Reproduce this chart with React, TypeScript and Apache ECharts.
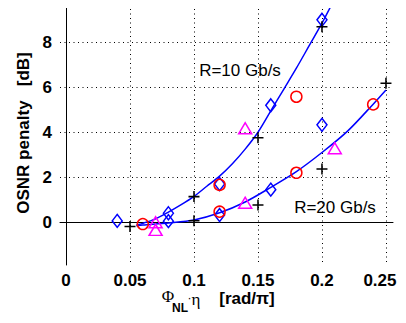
import React, { useEffect, useRef } from "react";
import * as echarts from "echarts";

const xTicks = [0, 0.05, 0.1, 0.15, 0.2, 0.25];
const yTicks = [0, 2, 4, 6, 8];

const diamonds: [number, number][] = [
  [0.04, 0.06], [0.08, 0.4], [0.08, 0.05], [0.12, 1.7], [0.12, 0.32],
  [0.16, 1.45], [0.16, 5.2], [0.2, 9.0], [0.2, 4.33],
];
const pluses: [number, number][] = [
  [0.05, -0.19], [0.1, 1.14], [0.1, 0.07], [0.15, 0.77], [0.15, 3.76],
  [0.2, 8.69], [0.2, 2.37], [0.25, 6.18],
];
const circles: [number, number][] = [
  [0.06, -0.08], [0.12, 1.66], [0.12, 0.47], [0.18, 2.2], [0.18, 5.58], [0.24, 5.24],
];
const triangles: [number, number][] = [
  [0.07, 0.0], [0.07, -0.34], [0.14, 0.87], [0.14, 4.18], [0.21, 3.29],
];
const fit10: [number, number][] = [
  [0.055, -0.12], [0.06, -0.05], [0.07, 0.15], [0.08, 0.45], [0.09, 0.78],
  [0.1, 1.15], [0.11, 1.6], [0.12, 2.05], [0.13, 2.6], [0.14, 3.25],
  [0.15, 4.0], [0.16, 4.95], [0.17, 5.9], [0.18, 6.85], [0.19, 7.85],
  [0.2, 8.85], [0.21, 9.95],
];
const fit20: [number, number][] = [
  [0.055, -0.15], [0.06, -0.12], [0.08, -0.03], [0.1, 0.1], [0.12, 0.42],
  [0.14, 0.9], [0.16, 1.55], [0.18, 2.25], [0.2, 3.1], [0.22, 4.05],
  [0.24, 5.25], [0.25, 5.88],
];

const PLUS = "path://M4.3,0H5.7V4.3H10V5.7H5.7V10H4.3V5.7H0V4.3H4.3Z";
const SANS = "Liberation Sans";
const SERIF = "Liberation Serif";
const CLEAR = "rgba(0,0,0,0)";

export default function App() {
  const ref = useRef<HTMLDivElement>(null);
  useEffect(() => {
    if (!ref.current) return;
    const chart = echarts.init(ref.current, undefined, { renderer: "svg" });
    const grid = { color: "#000", type: [1, 3.5] as any, width: 1 };
    const lblText = {
      color: "#000",
      fontSize: 17,
      fontWeight: "bold" as const,
      fontFamily: SANS,
    };
    chart.setOption({
      animation: false,
      backgroundColor: "#fff",
      grid: { left: 60, right: 13, top: 0, bottom: 58 },
      xAxis: {
        type: "value",
        min: -0.0047,
        max: 0.2555,
        axisLine: { show: true, lineStyle: { color: "#000", width: 1 } },
        axisTick: { show: false, customValues: xTicks },
        axisLabel: {
          ...lblText,
          customValues: xTicks,
          margin: 7,
          formatter: (v: number) => (v === xTicks[xTicks.length - 1] ? `{last|${v}}` : String(v)),
          rich: { last: { ...lblText, padding: [0, 12, 0, 0] } },
        },
        splitLine: { show: true, lineStyle: grid },
      },
      yAxis: {
        type: "value",
        min: -1.9,
        max: 9.88,
        axisLine: { show: true, lineStyle: { color: "#000", width: 1 } },
        axisTick: { show: false, customValues: yTicks },
        axisLabel: { ...lblText, customValues: yTicks, margin: 8, formatter: (v: number) => String(v) },
        splitLine: { show: true, lineStyle: grid },
      },
      series: [
        {
          type: "line", data: fit10, smooth: 0.3, symbol: "none",
          lineStyle: { color: "#0000ff", width: 1.5 }, z: 2,
        },
        {
          type: "line", data: fit20, smooth: 0.3, symbol: "none",
          lineStyle: { color: "#0000ff", width: 1.5 }, z: 2,
        },
        {
          type: "scatter", data: diamonds, symbol: "diamond", symbolSize: [10, 13],
          itemStyle: { color: CLEAR, borderColor: "#0000ff", borderWidth: 1.5, opacity: 1 }, z: 3,
        },
        {
          type: "scatter", data: circles, symbol: "circle", symbolSize: 11,
          itemStyle: { color: CLEAR, borderColor: "#ff0000", borderWidth: 1.5, opacity: 1 }, z: 3,
        },
        {
          type: "scatter", data: triangles, symbol: "triangle", symbolSize: [13, 11],
          itemStyle: { color: CLEAR, borderColor: "#ff00ff", borderWidth: 1.5, opacity: 1 }, z: 3,
        },
        {
          type: "scatter", data: pluses, symbol: PLUS, symbolSize: 11,
          itemStyle: { color: "#000", opacity: 1 }, z: 4,
        },
      ],
      graphic: [
        {
          type: "text", x: 23, y: 133, rotation: Math.PI / 2,
          style: {
            text: "OSNR penalty   [dB]", fill: "#000", align: "center", verticalAlign: "middle",
            font: `bold 17px ${SANS}`,
          },
        },
        {
          type: "text", x: 240, y: 70,
          style: { text: "R=10 Gb/s", fill: "#000", align: "center", verticalAlign: "middle", font: `17px ${SANS}` },
        },
        {
          type: "text", x: 335, y: 207,
          style: { text: "R=20 Gb/s", fill: "#000", align: "center", verticalAlign: "middle", font: `17px ${SANS}` },
        },
        {
          type: "text", x: 168, y: 296,
          style: { text: "Φ", fill: "#000", align: "center", verticalAlign: "middle", font: `17px ${SERIF}` },
        },
        {
          type: "text", x: 180, y: 308,
          style: { text: "NL", fill: "#000", align: "center", verticalAlign: "middle", font: `bold 12px ${SANS}` },
        },
        {
          type: "text", x: 189.5, y: 298,
          style: { text: "·", fill: "#000", align: "center", verticalAlign: "middle", font: `12px ${SANS}` },
        },
        {
          type: "text", x: 196, y: 299,
          style: { text: "η", fill: "#000", align: "center", verticalAlign: "middle", font: `17px ${SERIF}` },
        },
        {
          type: "text", x: 247, y: 298,
          style: { text: "[rad/π]", fill: "#000", align: "center", verticalAlign: "middle", font: `bold 17px ${SANS}` },
        },
      ],
    });
    return () => chart.dispose();
  }, []);
  return <div ref={ref} style={{ width: 406, height: 323, margin: -8 }} />;
}
